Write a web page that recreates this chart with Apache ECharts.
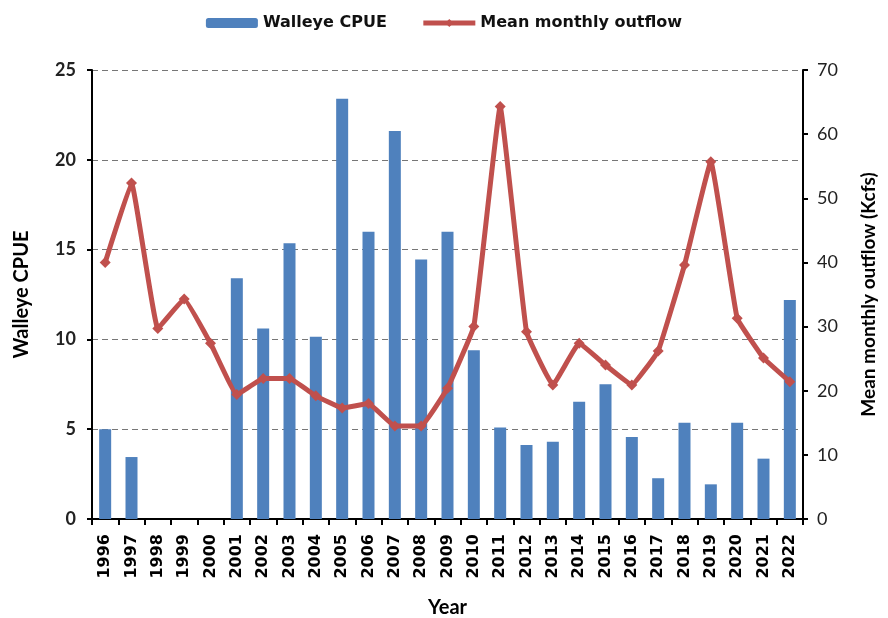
<!DOCTYPE html>
<html>
<head>
<meta charset="utf-8">
<script src="https://cdn.jsdelivr.net/npm/echarts@6/dist/echarts.min.js"></script>
<style>
  html, body { margin: 0; padding: 0; background: #fff; }
  #chart { width: 888px; height: 618px; }
</style>
</head>
<body>
<div id="chart"></div>
<script>
// years on the x axis
var years = ['1996', '1997', '1998', '1999', '2000', '2001', '2002', '2003', '2004',
  '2005', '2006', '2007', '2008', '2009', '2010', '2011', '2012', '2013', '2014',
  '2015', '2016', '2017', '2018', '2019', '2020', '2021', '2022'];
// walleye CPUE (left axis), no sampling 1998-2000
var cpue = [5.0, 3.45, '-', '-', '-', 13.4, 10.6, 15.35, 10.15, 23.4, 16.0, 21.6, 14.45,
  16.0, 9.4, 5.1, 4.12, 4.3, 6.53, 7.5, 4.57, 2.27, 5.36, 1.93, 5.36, 3.36, 12.2];
// mean monthly outflow in Kcfs (right axis)
var outflow = [40.0, 52.4, 29.7, 34.3, 27.4, 19.4, 21.9, 21.9, 19.2, 17.3, 18.0, 14.5, 14.5,
  20.4, 30.0, 64.3, 29.2, 20.9, 27.4, 24.0, 20.9, 26.2, 39.6, 55.7, 31.3, 25.1, 21.4];

var font = 'Lato, "Open Sans", sans-serif';
var wide = '"DejaVu Sans", sans-serif';
var myChart = echarts.init(document.getElementById('chart'));

myChart.setOption({
  textStyle: { fontFamily: font, color: '#000' },
  legend: {
    top: 10,
    left: 'center',
    itemWidth: 52,
    itemHeight: 10,
    itemGap: 34,
    textStyle: { fontSize: 16, fontWeight: 'bold', color: '#111', fontFamily: wide },
    data: [
      { name: 'Walleye CPUE' },
      { name: 'Mean monthly outflow', lineStyle: { width: 5 } }
    ]
  },
  grid: { left: 92, right: 85, top: 70, bottom: 99, outerBoundsMode: 'none' },
  xAxis: {
    type: 'category',
    data: years,
    name: 'Year',
    nameLocation: 'middle',
    nameGap: 79,
    nameTextStyle: { fontSize: 20, fontWeight: 'bold', color: '#000' },
    axisLine: { lineStyle: { color: '#000', width: 2 } },
    axisTick: { show: true, length: 6, lineStyle: { color: '#000', width: 2 } },
    axisLabel: { rotate: 90, fontSize: 16, fontWeight: 'bold', color: '#000', margin: 15, fontFamily: wide }
  },
  yAxis: [{
    type: 'value',
    min: 0, max: 25, interval: 5,
    name: 'Walleye CPUE',
    nameLocation: 'middle',
    nameGap: 60,
    nameTextStyle: { fontSize: 20, fontWeight: 'bold', color: '#000' },
    axisLine: { show: true, lineStyle: { color: '#000', width: 2 } },
    axisTick: { show: true, length: 5, lineStyle: { color: '#000', width: 2 } },
    axisLabel: { fontSize: 18, fontWeight: 'bold', color: '#222', margin: 16 },
    splitLine: { lineStyle: { color: '#777', type: [6, 4], width: 1 } }
  }, {
    type: 'value',
    min: 0, max: 70, interval: 10,
    name: 'Mean monthly outflow (Kcfs)',
    nameLocation: 'middle',
    nameGap: 56,
    nameTextStyle: { fontSize: 19, fontWeight: 'bold', color: '#000' },
    axisLine: { show: true, lineStyle: { color: '#000', width: 2 } },
    axisTick: { show: true, length: 5, lineStyle: { color: '#000', width: 2 } },
    axisLabel: { fontSize: 18, color: '#222', margin: 14 },
    splitLine: { show: false }
  }],
  series: [{
    name: 'Walleye CPUE',
    type: 'bar',
    yAxisIndex: 0,
    barWidth: 12,
    itemStyle: { color: '#4F81BD' },
    data: cpue
  }, {
    name: 'Mean monthly outflow',
    type: 'line',
    yAxisIndex: 1,
    smooth: 0.08,
    symbol: 'diamond',
    symbolSize: 11,
    lineStyle: { color: '#C0504D', width: 5 },
    itemStyle: { color: '#C0504D' },
    data: outflow
  }]
});
</script>
</body>
</html>
